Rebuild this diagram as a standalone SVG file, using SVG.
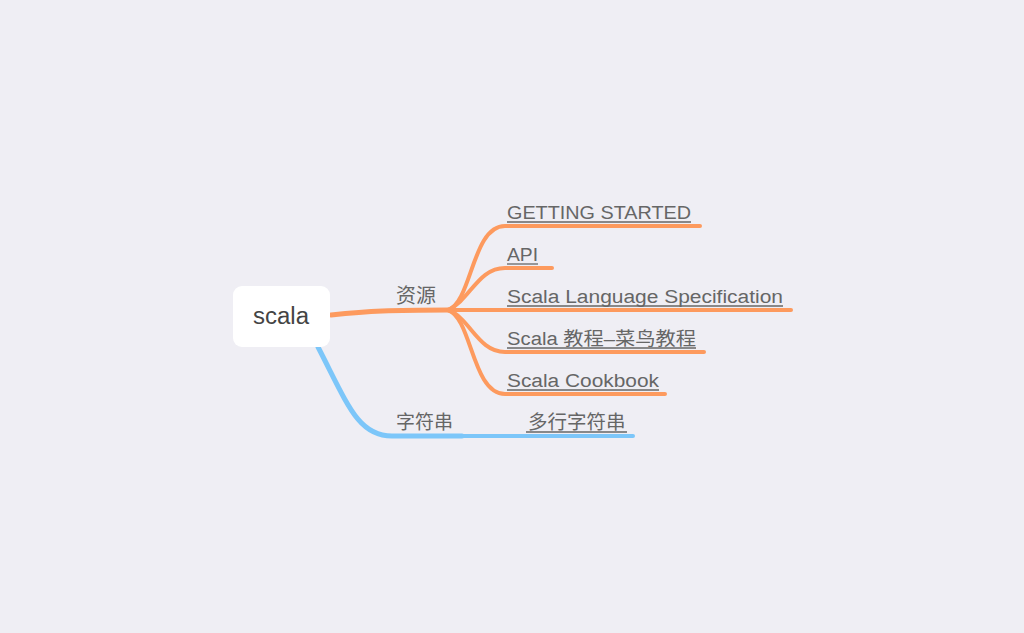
<svg xmlns="http://www.w3.org/2000/svg" width="1024" height="633" viewBox="0 0 1024 633">
<style>
.t{font-family:"Liberation Sans","Noto Sans CJK SC",sans-serif;font-size:18px;fill:#666}
.c{font-family:"Noto Sans CJK SC","Liberation Sans",sans-serif;font-size:19.5px;fill:#666}
.o{fill:none;stroke:#FD9A5E;stroke-linecap:round}
.b{fill:none;stroke:#7CC6F9;stroke-linecap:round}
.u{stroke:#666;stroke-width:1.3}
</style>
<rect width="1024" height="633" fill="#EFEEF4"/>
<g id="connectors">
<path class="o" stroke-width="5" d="M331,315 C370,311 390,310 448,310"/>
<path class="o" stroke-width="4" d="M448,310 C472,302 472,226 505,226 L700,226"/>
<path class="o" stroke-width="4" d="M448,310 C470,300 478,268 505,268 L552,268"/>
<path class="o" stroke-width="4" d="M448,310 L791,310"/>
<path class="o" stroke-width="4" d="M448,310 C470,318 478,352 505,352 L704,352"/>
<path class="o" stroke-width="4" d="M448,310 C472,318 472,394 505,394 L665,394"/>
<path class="b" stroke-width="5" d="M318,347 C348,405 358,436 392,436 L462,436"/>
<path class="b" stroke-width="4" d="M462,436 L633,436"/>
</g>
<g id="root">
<rect x="233" y="286" width="97" height="61" rx="9" fill="#fff"/>
<text class="t" x="253" y="324" textLength="56" lengthAdjust="spacingAndGlyphs" style="font-size:23px;fill:#444">scala</text>
</g>
<g id="n-ziyuan">
<text class="c" x="396" y="303" style="font-size:20px">资源</text>
</g>
<g id="n-getting">
<text class="t" x="507" y="219" textLength="184" lengthAdjust="spacingAndGlyphs">GETTING STARTED</text>
<line class="u" x1="507" y1="222" x2="691" y2="222"/>
</g>
<g id="n-api">
<text class="t" x="507" y="261" textLength="31" lengthAdjust="spacingAndGlyphs">API</text>
<line class="u" x1="507" y1="264" x2="538" y2="264"/>
</g>
<g id="n-spec">
<text class="t" x="507" y="303" textLength="276" lengthAdjust="spacingAndGlyphs">Scala Language Specification</text>
<line class="u" x1="507" y1="306" x2="783" y2="306"/>
</g>
<g id="n-runoob">
<text class="t" x="507" y="345" textLength="189" lengthAdjust="spacingAndGlyphs">Scala 教程–菜鸟教程</text>
<line class="u" x1="507" y1="348" x2="696" y2="348"/>
</g>
<g id="n-cookbook">
<text class="t" x="507" y="387" textLength="152" lengthAdjust="spacingAndGlyphs">Scala Cookbook</text>
<line class="u" x1="507" y1="390" x2="659" y2="390"/>
</g>
<g id="n-zifuchuan">
<text class="c" x="396" y="429" style="font-size:19px">字符串</text>
</g>
<g id="n-duohang">
<text class="c" x="528" y="429">多行字符串</text>
<line class="u" x1="526" y1="432" x2="627" y2="432"/>
</g>
</svg>
